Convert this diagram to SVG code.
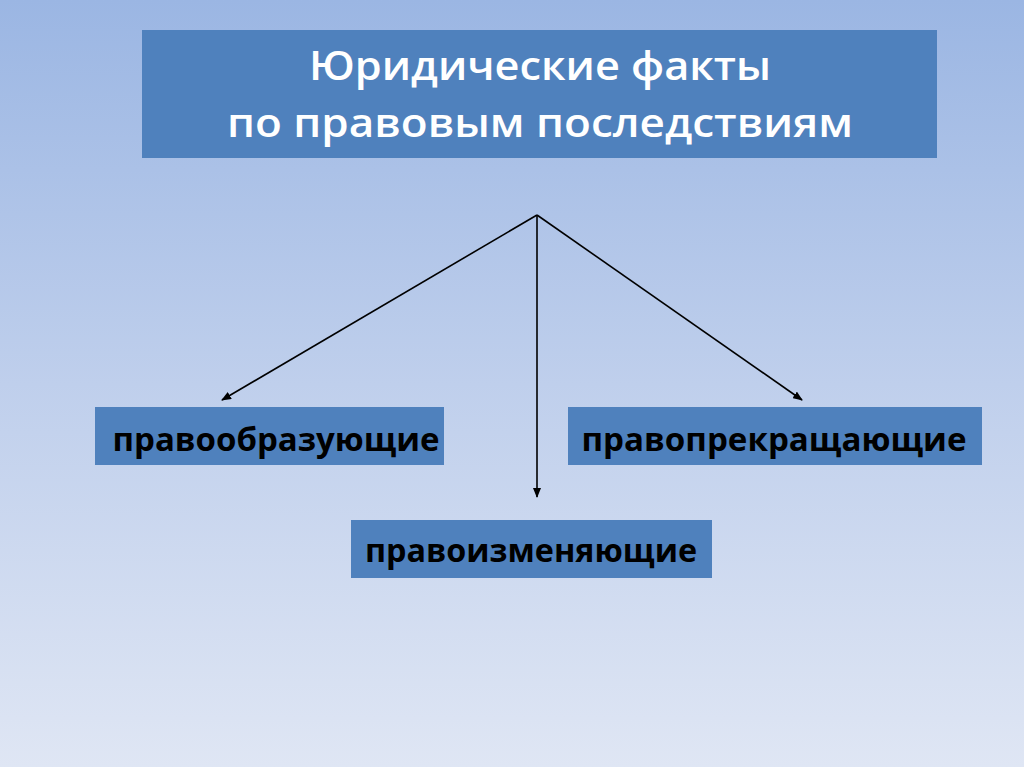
<svg xmlns="http://www.w3.org/2000/svg" width="1024" height="767" viewBox="0 0 1024 767">
<defs>
<linearGradient id="bg" x1="0" y1="0" x2="0" y2="1">
<stop offset="0" stop-color="#9bb6e3"/>
<stop offset="0.5" stop-color="#bfcfec"/>
<stop offset="1" stop-color="#dfe6f4"/>
</linearGradient>
<marker id="arr" markerWidth="10" markerHeight="8" refX="9" refY="4" orient="auto" markerUnits="userSpaceOnUse">
<path d="M0,0 L10,4 L0,8 Z" fill="#000"/>
</marker>
<style>
.box{fill:#4f81bd;}
.t{font-family:"Open Sans","Noto Sans","Liberation Sans",sans-serif;font-weight:bold;text-anchor:middle;}
.title{fill:#fff;font-size:40px;font-weight:600;}
.lab{fill:#000;font-size:33px;}
.c{stroke:#000;stroke-width:1.6;fill:none;marker-end:url(#arr);}
</style>
</defs>
<rect width="1024" height="767" fill="url(#bg)"/>
<g id="title">
<rect class="box" x="142" y="30" width="795" height="128"/>
<text class="t title" x="540" y="80" textLength="462" lengthAdjust="spacingAndGlyphs">Юридические факты</text>
<text class="t title" x="540" y="137" textLength="626" lengthAdjust="spacingAndGlyphs">по правовым последствиям</text>
</g>
<g id="connectors">
<line class="c" x1="537" y1="215" x2="222" y2="400"/>
<line class="c" x1="537" y1="215" x2="537" y2="497"/>
<line class="c" x1="537" y1="215" x2="802" y2="400"/>
</g>
<g id="n1">
<rect class="box" x="95" y="407" width="349" height="58"/>
<text class="t lab" x="276" y="451" textLength="327" lengthAdjust="spacingAndGlyphs">правообразующие</text>
</g>
<g id="n2">
<rect class="box" x="568" y="407" width="414" height="58"/>
<text class="t lab" x="774" y="451" textLength="385" lengthAdjust="spacingAndGlyphs">правопрекращающие</text>
</g>
<g id="n3">
<rect class="box" x="351" y="520" width="361" height="58"/>
<text class="t lab" x="531" y="562" textLength="332" lengthAdjust="spacingAndGlyphs">правоизменяющие</text>
</g>
</svg>
